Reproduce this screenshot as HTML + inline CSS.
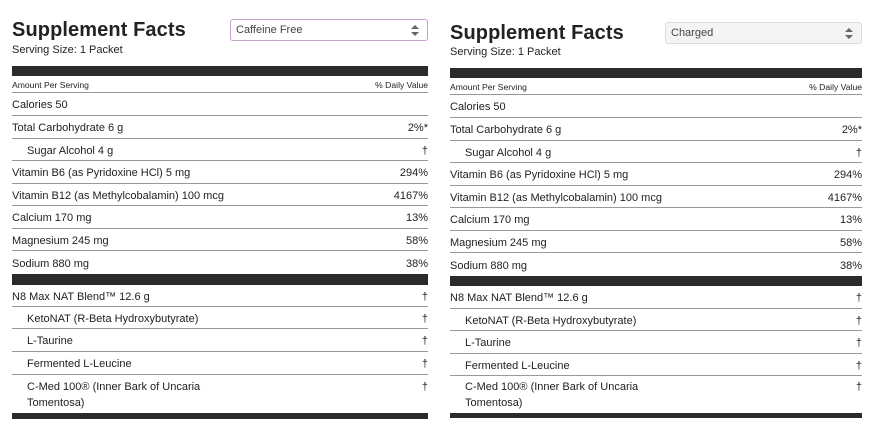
<!DOCTYPE html>
<html><head><meta charset="utf-8"><style>
*{margin:0;padding:0;box-sizing:border-box}
body{width:877px;height:426px;background:#fff;font-family:"Liberation Sans",sans-serif;color:#222;position:relative;overflow:hidden}
.p{position:absolute;top:0;height:426px}
.t{position:absolute;font-size:20px;font-weight:bold;color:#222;letter-spacing:0.1px}
.s{position:absolute;font-size:11px;color:#222}
.sel{position:absolute;height:22px;border-radius:3px;font-size:11px;color:#444;padding-left:5px;line-height:20px}
.sel:after{content:"";position:absolute;right:8px;top:5px;width:0;height:0;border-left:4px solid transparent;border-right:4px solid transparent;border-bottom:4px solid #666}
.sel:before{content:"";position:absolute;right:8px;top:12px;width:0;height:0;border-left:4px solid transparent;border-right:4px solid transparent;border-top:4px solid #666}
.bar{position:absolute;left:0;right:0;background:#2b2b2b}
.r{position:absolute;left:0;right:0;display:flex;justify-content:space-between;align-items:center;font-size:11px;border-bottom:1px solid #999;padding-top:2px}
.r.n{border-bottom:none}
.i{padding-left:15px}
.sm{font-size:8.6px}
</style></head><body>

<div class="p" style="left:12px;width:416px">
<div class="t" style="top:19px;left:0">Supplement Facts</div>
<div class="s" style="top:44px;left:0">Serving Size: 1 Packet</div>
<div class="sel" style="left:218px;width:198px;top:19px;border:1px solid #c6a0c9;background:#fff">Caffeine Free</div>
<div class="bar" style="top:66px;height:10px"></div>
<div class="r sm" style="top:76px;height:17px"><span>Amount Per Serving</span><span>% Daily Value</span></div>
<div class="r" style="top:93px;height:23px"><span>Calories 50</span><span></span></div>
<div class="r" style="top:116px;height:23px"><span>Total Carbohydrate 6 g</span><span>2%*</span></div>
<div class="r" style="top:139px;height:22px"><span class="i">Sugar Alcohol 4 g</span><span>†</span></div>
<div class="r" style="top:161px;height:23px"><span>Vitamin B6 (as Pyridoxine HCl) 5 mg</span><span>294%</span></div>
<div class="r" style="top:184px;height:22px"><span>Vitamin B12 (as Methylcobalamin) 100 mcg</span><span>4167%</span></div>
<div class="r" style="top:206px;height:23px"><span>Calcium 170 mg</span><span>13%</span></div>
<div class="r" style="top:229px;height:22px"><span>Magnesium 245 mg</span><span>58%</span></div>
<div class="r n" style="top:251px;height:23px"><span>Sodium 880 mg</span><span>38%</span></div>
<div class="bar" style="top:274px;height:11px"></div>
<div class="r" style="top:285px;height:22px"><span>N8 Max NAT Blend™ 12.6 g</span><span>†</span></div>
<div class="r" style="top:307px;height:22px"><span class="i">KetoNAT (R-Beta Hydroxybutyrate)</span><span>†</span></div>
<div class="r" style="top:329px;height:23px"><span class="i">L-Taurine</span><span>†</span></div>
<div class="r" style="top:352px;height:23px"><span class="i">Fermented L-Leucine</span><span>†</span></div>
<div class="r n" style="top:375px;height:38px;align-items:flex-start;padding-top:4px;line-height:16px"><span class="i">C-Med 100® (Inner Bark of Uncaria<br>Tomentosa)</span><span>†</span></div>
<div class="bar" style="top:413px;height:6px"></div>
</div>

<div class="p" style="left:450px;width:412px">
<div class="t" style="top:22px;left:0">Supplement Facts</div>
<div class="s" style="top:46px;left:0">Serving Size: 1 Packet</div>
<div class="sel" style="left:215px;width:197px;top:22px;border:1px solid #ddd;background:#f4f4f4">Charged</div>
<div class="bar" style="top:68px;height:10px"></div>
<div class="r sm" style="top:78px;height:17px"><span>Amount Per Serving</span><span>% Daily Value</span></div>
<div class="r" style="top:95px;height:23px"><span>Calories 50</span><span></span></div>
<div class="r" style="top:118px;height:23px"><span>Total Carbohydrate 6 g</span><span>2%*</span></div>
<div class="r" style="top:141px;height:22px"><span class="i">Sugar Alcohol 4 g</span><span>†</span></div>
<div class="r" style="top:163px;height:23px"><span>Vitamin B6 (as Pyridoxine HCl) 5 mg</span><span>294%</span></div>
<div class="r" style="top:186px;height:22px"><span>Vitamin B12 (as Methylcobalamin) 100 mcg</span><span>4167%</span></div>
<div class="r" style="top:208px;height:23px"><span>Calcium 170 mg</span><span>13%</span></div>
<div class="r" style="top:231px;height:22px"><span>Magnesium 245 mg</span><span>58%</span></div>
<div class="r n" style="top:253px;height:23px"><span>Sodium 880 mg</span><span>38%</span></div>
<div class="bar" style="top:276px;height:10px"></div>
<div class="r" style="top:286px;height:23px"><span>N8 Max NAT Blend™ 12.6 g</span><span>†</span></div>
<div class="r" style="top:309px;height:22px"><span class="i">KetoNAT (R-Beta Hydroxybutyrate)</span><span>†</span></div>
<div class="r" style="top:331px;height:23px"><span class="i">L-Taurine</span><span>†</span></div>
<div class="r" style="top:354px;height:22px"><span class="i">Fermented L-Leucine</span><span>†</span></div>
<div class="r n" style="top:376px;height:37px;align-items:flex-start;padding-top:3px;line-height:16px"><span class="i">C-Med 100® (Inner Bark of Uncaria<br>Tomentosa)</span><span>†</span></div>
<div class="bar" style="top:413px;height:5px"></div>
</div>

</body></html>
